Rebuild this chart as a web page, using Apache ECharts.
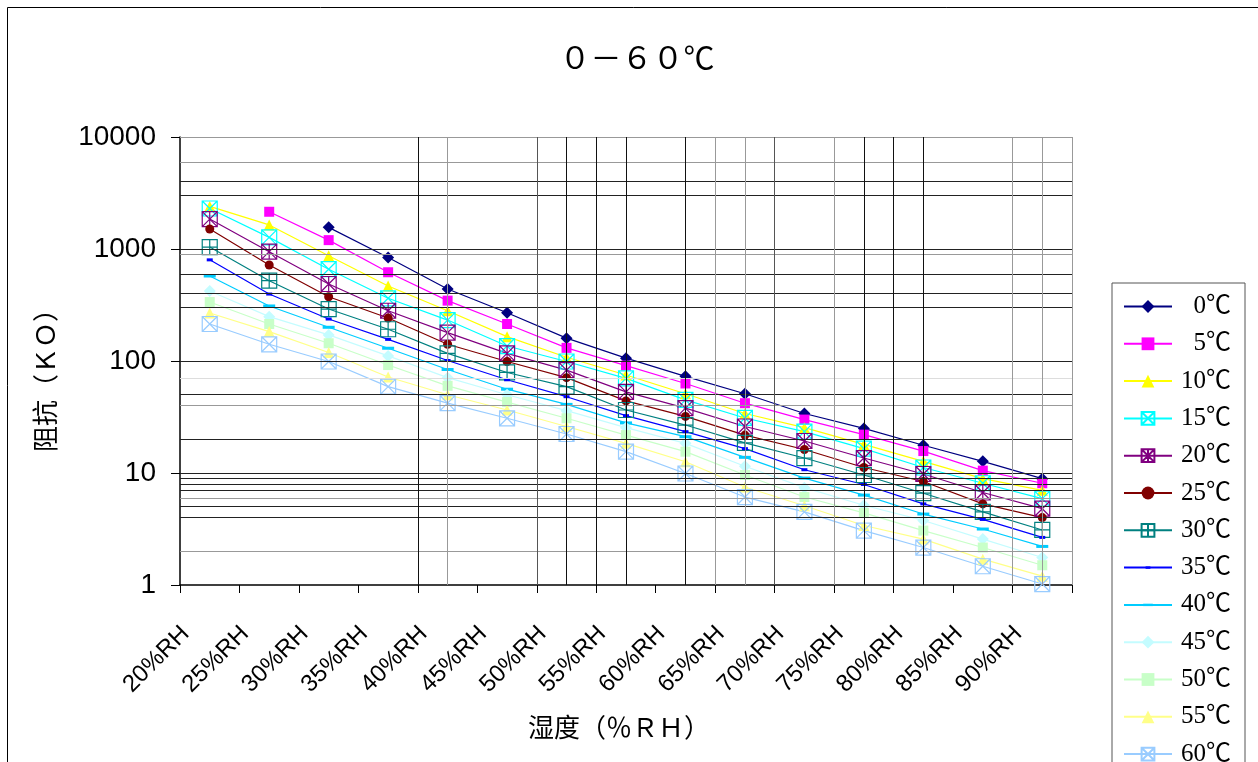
<!DOCTYPE html>
<html>
<head>
<meta charset="utf-8">
<script src="https://cdn.jsdelivr.net/npm/echarts@6/dist/echarts.min.js"></script>
<style>
html,body{margin:0;padding:0;background:#fff}
#main{width:1258px;height:762px}
</style>
</head>
<body>
<div id="main"></div>
<script>
// 湿度分类
var categories = ['20%RH','25%RH','30%RH','35%RH','40%RH','45%RH','50%RH','55%RH','60%RH','65%RH','70%RH','75%RH','80%RH','85%RH','90%RH'];
var seriesNames = ['0℃','5℃','10℃','15℃','20℃','25℃','30℃','35℃','40℃','45℃','50℃','55℃','60℃'];

// 各温度下的阻抗 (KO)
var r0  = [null, null, 1560, 840, 440, 270, 160, 106, 73, 51, 34, 25, 17.7, 12.7, 8.9];
var r5  = [null, 2150, 1200, 620, 346, 214, 131, 91, 63, 42, 30, 22, 15.7, 10.5, 8.1];
var r10 = [2400, 1640, 870, 468, 281, 165, 108, 75, 51, 34, 25.4, 18, 12.7, 8.9, 7.0];
var r15 = [2300, 1270, 660, 363, 232, 136, 99, 70, 45, 31, 23.4, 16.5, 11.2, 8.1, 5.9];
var r20 = [1850, 946, 487, 281, 179, 117, 83, 53, 38, 26, 19.3, 13.6, 9.8, 6.7, 4.8];
var r25 = [1510, 720, 375, 242, 141, 99, 71, 44, 32, 21.8, 16.2, 11.2, 8.4, 5.3, 4.0];
var r30 = [1040, 521, 291, 192, 117, 79, 59, 36.5, 26.8, 18.6, 13.6, 9.6, 6.6, 4.5, 3.1];
var r35 = [800, 396, 237, 156, 101, 68, 48, 32.5, 23.4, 16.5, 10.7, 7.9, 5.3, 3.85, 2.66];
var r40 = [574, 310, 200, 130, 84, 56, 41, 28, 21.1, 13.8, 9.0, 6.35, 4.3, 3.16, 2.21];
var r45 = [422, 249, 171, 111, 71, 50, 36, 25.4, 18.4, 11.5, 7.4, 5.15, 3.77, 2.57, 1.76];
var r50 = [336, 214, 144, 92, 60, 43, 30.8, 21.8, 15.5, 9.6, 6.1, 4.4, 3.06, 2.16, 1.5];
var r55 = [268, 183, 119, 72, 50, 36.5, 26, 18.4, 12.6, 7.5, 5.1, 3.4, 2.57, 1.7, 1.2];
var r60 = [214, 141, 99, 59, 42, 30.8, 22.3, 15.5, 9.9, 6.1, 4.5, 3.06, 2.16, 1.47, 1.02];
var allData = [r0, r5, r10, r15, r20, r25, r30, r35, r40, r45, r50, r55, r60];

// 网格线 (Excel 原图里不规则的网格)
var hGridDark  = [10, 100, 1000, 4000, 3000, 600, 400, 300, 50, 20, 9, 8, 7, 5, 4];
var hGridGray  = [10000, 6000, 900, 40, 6, 2];
var hGridFaint = [70];
// 竖线位置: 半个分类为单位 (偶数=分类边界, 奇数=分类中心)
var vGridDark  = [8, 13, 14, 15, 17, 23, 24, 25];
var vGridMid   = [12, 20];
var vGridGray  = [9, 18, 19, 22, 28, 29, 30];

var colors = ['#000080','#FF00FF','#FFFF00','#00FFFF','#800080','#800000','#008080','#0000FF','#00CCFF','#C4FCFF','#C8FFC8','#FFFF88','#99CCFF'];

var boxX    = 'path://M0,0H16V16H0Z M0,0L16,16 M16,0L0,16';
var boxStar = 'path://M0,0H16V16H0Z M0,0L16,16 M16,0L0,16 M8,0V16';
var boxPlus = 'path://M0,0H16V16H0Z M8,0V16 M0,8H16';
var dashS   = 'path://M0,0M16,16M5,6.5H11V9.5H5Z';
var dashL   = 'path://M0,0M16,16M2,6.5H14V9.5H2Z';
var markers = ['diamond','rect','triangle',boxX,boxStar,'circle',boxPlus,dashS,dashL,'diamond','rect','triangle',boxX];
var sizes   = [12, 10, 11, 15, 15, 9, 15, 16, 16, 12, 10, 11, 15];
var hollow  = [false,false,false,true,true,false,true,false,false,false,false,false,true];

var myChart = echarts.init(document.getElementById('main'));

var series = [];
for (var i = 0; i < seriesNames.length; i++) {
    series.push({
        name: seriesNames[i],
        type: 'line',
        z: 3,
        data: allData[i],
        symbol: markers[i],
        symbolSize: sizes[i],
        showAllSymbol: true,
        lineStyle: { color: colors[i], width: 1.2 },
        itemStyle: hollow[i]
            ? { color: 'rgba(0,0,0,0)', borderColor: colors[i], borderWidth: 1.2 }
            : { color: colors[i], borderWidth: 0 },
        emphasis: { disabled: true }
    });
}

var gridLines = [];
hGridDark.forEach(function (v) { gridLines.push({ yAxis: v, lineStyle: { color: '#222' } }); });
hGridGray.forEach(function (v) { gridLines.push({ yAxis: v, lineStyle: { color: '#999' } }); });
hGridFaint.forEach(function (v) { gridLines.push({ yAxis: v, lineStyle: { color: '#ddd' } }); });
vGridDark.forEach(function (v) { gridLines.push({ xAxis: v, lineStyle: { color: '#111' } }); });
vGridMid.forEach(function (v) { gridLines.push({ xAxis: v, lineStyle: { color: '#555' } }); });
vGridGray.forEach(function (v) { gridLines.push({ xAxis: v, lineStyle: { color: '#999' } }); });

series.unshift({
    name: 'grid',
    type: 'line',
    xAxisIndex: 1,
    z: 1,
    data: [],
    silent: true,
    markLine: {
        silent: true,
        animation: false,
        symbol: ['none', 'none'],
        label: { show: false },
        lineStyle: { type: 'solid', width: 1 },
        data: gridLines
    }
});

var option = {
    animation: false,
    backgroundColor: '#fff',
    grid: { left: 180, right: 186, top: 137, bottom: 177, outerBoundsMode: 'none', containLabel: false },
    legend: {
        data: seriesNames,
        orient: 'vertical',
        left: 1112,
        top: 283,
        height: 500,
        padding: [11, 14, 30, 11],
        itemWidth: 48,
        itemHeight: 16,
        itemGap: 12.3,
        selectedMode: false,
        backgroundColor: '#fff',
        borderColor: '#555',
        borderWidth: 1,
        borderRadius: 0,
        formatter: '{t|{name}}',
        textStyle: {
            color: '#000',
            fontFamily: 'Liberation Serif, Noto Sans CJK SC',
            fontSize: 25,
            lineHeight: 24,
            rich: { t: { width: 54, align: 'right', fontSize: 25, lineHeight: 24,
                fontFamily: 'Liberation Serif, Noto Sans CJK SC', color: '#000' } }
        }
    },
    xAxis: [{
        type: 'category',
        data: categories,
        boundaryGap: true,
        axisLine: { lineStyle: { color: '#000', width: 1.5 } },
        axisTick: { show: true, length: 8, lineStyle: { color: '#000' } },
        axisLabel: {
            interval: 0,
            rotate: 45,
            margin: 21,
            padding: [0, 34, 0, 0],
            color: '#000',
            fontFamily: 'Liberation Sans, Arial',
            fontSize: 24
        },
        splitLine: { show: false }
    }, {
        type: 'value',
        min: 0,
        max: 30,
        show: false
    }],
    yAxis: {
        type: 'log',
        logBase: 10,
        min: 1,
        max: 10000,
        splitNumber: 4,
        axisLine: { show: true, lineStyle: { color: '#000', width: 1.5 } },
        axisTick: { show: true, length: 9, lineStyle: { color: '#000' } },
        axisLabel: {
            margin: 24,
            color: '#000',
            fontFamily: 'Liberation Sans, Arial',
            fontSize: 28,
            formatter: function (v) { return String(Math.round(v)); }
        },
        splitLine: { show: false },
        minorTick: { show: false },
        minorSplitLine: { show: false }
    },
    graphic: [
        { type: 'rect', z: -10, shape: { x: 7.5, y: 7.5, width: 1400, height: 900 },
          style: { fill: '#fff', stroke: '#000', lineWidth: 1 } },
        { type: 'text', x: 637, y: 57, style: { text: '０－６０℃', fontFamily: 'Noto Sans CJK SC',
          fontSize: 31, fill: '#000', align: 'center', verticalAlign: 'middle' } },
        { type: 'text', x: 45, y: 374, rotation: Math.PI / 2, style: { text: '阻抗（ＫＯ）',
          fontFamily: 'Noto Sans CJK SC', fontSize: 26, fill: '#000', align: 'center', verticalAlign: 'middle' } },
        { type: 'text', x: 619, y: 727, style: { text: '湿度（％ＲＨ）', fontFamily: 'Noto Sans CJK SC',
          fontSize: 26, fill: '#000', align: 'center', verticalAlign: 'middle' } }
    ],
    series: series
};
myChart.setOption(option);
</script>
</body>
</html>
